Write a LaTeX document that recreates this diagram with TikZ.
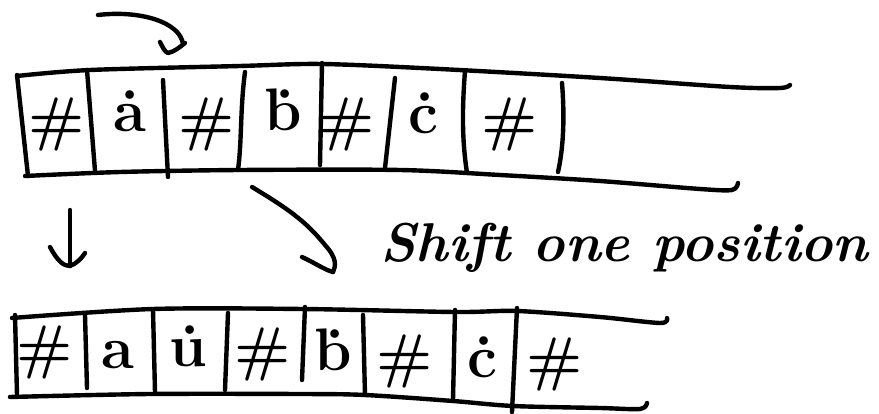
\documentclass[tikz,border=0pt]{standalone}
\usepackage{fontspec}
\usepackage{graphicx}
\begin{document}
\begin{tikzpicture}[x=1pt,y=-1pt,
  ink/.style={line width=4.4pt, line cap=round, line join=round},
  cell/.style={font=\fontsize{60}{60}\selectfont\bfseries, inner sep=0pt},
  note/.style={font=\fontsize{54}{54}\selectfont\bfseries\itshape, inner sep=0pt, anchor=base west}]
\useasboundingbox (0,0) rectangle (879,414);

% ---------- top tape ----------
\draw[ink] plot[smooth] coordinates {(17,76) (90,70) (240,66) (322,64) (440,69) (600,78) (730,87) (780,88) (790,85)};
\draw[ink] plot[smooth] coordinates {(25,176) (120,172) (240,170) (400,170) (500,175) (600,181) (700,189) (732,190) (738,183)};
\draw[ink] (17,75) -- (28,176);
\draw[ink] (87,70) -- (95,171);
\draw[ink] (163,80) -- (168,177);
\draw[ink] (245,72) .. controls (240,110) and (242,140) .. (238,170);
\draw[ink] (322,63) -- (320,165);
\draw[ink] (395,78) -- (385,168);
\draw[ink] (465,71) .. controls (462,110) and (462,140) .. (467,173);
\draw[ink] (562,83) .. controls (565,120) and (563,150) .. (558,172);

\node[cell] (t1) at (57,125) {\#};
\node[cell] (t2) at (130,111) {\.a};
\node[cell] (t3) at (207,125) {\#};
\node[cell] (t4) at (283,110) {\.b};
\node[cell] (t5) at (347,125) {\#};
\node[cell] (t6) at (423,113) {\.c};
\node[cell] (t7) at (510,125) {\#};

% ---------- bottom tape ----------
\draw[ink] plot[smooth] coordinates {(12,318) (153,309) (303,309) (455,312) (517,311) (600,317) (660,323) (667,318)};
\draw[ink] plot[smooth] coordinates {(10,397) (150,394) (300,394) (365,395) (453,401) (513,406) (600,408) (640,409) (647,403)};
\draw[ink] (15,315) -- (17,395);
\draw[ink] (85,315) -- (87,388);
\draw[ink] (153,310) -- (155,392);
\draw[ink] (228,313) -- (225,390);
\draw[ink] (305,307) -- (302,380);
\draw[ink] (363,315) -- (365,395);
\draw[ink] (455,310) -- (453,400);
\draw[ink] (517,308) -- (512,412);

\node[cell] (b1) at (45,352) {\#};
\node[cell] (b2) at (118,355) {a};
\node[cell] (b3) at (188,346) {\.u};
\node[cell] (b4) at (263,355) {\#};
\node[cell] (b5) at (333,350) {\.b};
\node[cell] (b6) at (405,362) {\#};
\node[cell] (b7) at (482,357) {\.c};
\node[cell] (b8) at (555,365) {\#};

% ---------- arrows ----------
\coordinate (c1s) at (98,15);
\coordinate (c1e) at (183,44);
\draw[ink] (c1s) .. controls (140,10) and (180,22) .. (c1e);
\draw[ink] (160,42) .. controls (163,48) and (165,52) .. (168,53) .. controls (174,52) and (180,47) .. (185,43);

\coordinate (d1s) at (70,210);
\coordinate (d1e) at (70,266);
\draw[ink] (d1s) -- (d1e);
\draw[ink] (50,247) .. controls (58,262) and (64,266) .. (d1e) .. controls (76,264) and (82,258) .. (85,253);

\coordinate (d2s) at (252,187);
\coordinate (d2e) at (333,272);
\draw[ink] (d2s) .. controls (285,207) and (305,220) .. (325,245) .. controls (337,258) and (336,266) .. (d2e);
\draw[ink] (302,257) .. controls (315,263) and (325,270) .. (d2e);

\node[note] (lbl) at (380,262) {\resizebox{488pt}{!}{Shift one position}};
\end{tikzpicture}
\end{document}
